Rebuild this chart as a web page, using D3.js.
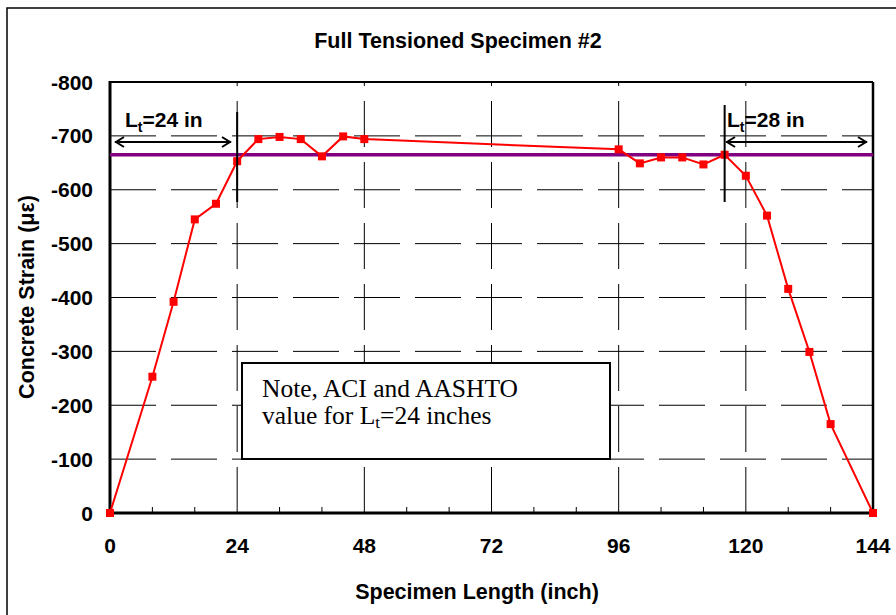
<!DOCTYPE html>
<html>
<head>
<meta charset="utf-8">
<script src="https://cdn.jsdelivr.net/npm/d3@7"></script>
<style>
  html, body { margin: 0; padding: 0; background: #fff; }
  svg { display: block; }
</style>
</head>
<body>
<svg id="chart" width="896" height="615"></svg>
<script>
// ---- data ----
const positions = [0, 8, 12, 16, 20, 24, 28, 32, 36, 40, 44, 48, 96, 100, 104, 108, 112, 116, 120, 124, 128, 132, 136, 144];
const strains   = [0, -253, -392, -545, -574, -653, -694, -698, -694, -662, -699, -694, -675, -649, -660, -660, -647, -665, -626, -552, -416, -299, -165, 0];
const referenceStrain = -665;      // ACI / AASHTO level
const xTicks = [0, 24, 48, 72, 96, 120, 144];
const xMinorTicks = [8, 16, 32, 40, 56, 64, 80, 88, 104, 112, 128, 136];
const yTicks = [0, -100, -200, -300, -400, -500, -600, -700, -800];
const leftLt = 24, rightLtPos = 116, rightLt = 28;
const titleText = "Full Tensioned Specimen #2";
const xTitle = "Specimen Length (inch)";
const yTitle = "Concrete Strain (\u03bc\u03b5)";

const svg = d3.select("#chart");
const x = d3.scaleLinear().domain([0, 144]).range([110, 873]);
const y = d3.scaleLinear().domain([0, -800]).range([513, 82]);
const sans = "'Liberation Sans', Arial, sans-serif";

// outer chart border
svg.append("rect").attr("x", 7).attr("y", 8).attr("width", 900).attr("height", 620)
  .attr("fill", "none").attr("stroke", "#000").attr("stroke-width", 1.5);

// grid lines
const g = svg.append("g");
g.selectAll("line.hg").data(yTicks.filter(d => d !== 0 && d !== -800)).join("line")
  .attr("x1", x(0)).attr("x2", x(144)).attr("y1", d => y(d)).attr("y2", d => y(d))
  .attr("stroke", "#000").attr("stroke-width", 1).attr("stroke-dasharray", "46,15");
g.selectAll("line.vg").data(xTicks.filter(d => d !== 0 && d !== 144)).join("line")
  .attr("x1", d => x(d)).attr("x2", d => x(d)).attr("y1", y(0)).attr("y2", y(-800))
  .attr("stroke", "#000").attr("stroke-width", 1).attr("stroke-dasharray", "46,15");

// minor ticks on x axis
g.selectAll("line.mt").data(xMinorTicks).join("line")
  .attr("x1", d => x(d)).attr("x2", d => x(d)).attr("y1", y(0)).attr("y2", y(0) - 6)
  .attr("stroke", "#000").attr("stroke-width", 1);

// plot frame
svg.append("line").attr("x1", x(0)).attr("x2", x(144)).attr("y1", y(-800)).attr("y2", y(-800))
  .attr("stroke", "#000").attr("stroke-width", 2);
svg.append("line").attr("x1", x(144)).attr("x2", x(144)).attr("y1", y(-800)).attr("y2", y(0))
  .attr("stroke", "#000").attr("stroke-width", 2.5);
svg.append("line").attr("x1", x(0)).attr("x2", x(0)).attr("y1", y(-800) - 1).attr("y2", y(0) + 1.5)
  .attr("stroke", "#000").attr("stroke-width", 3);
svg.append("line").attr("x1", x(0) - 1.5).attr("x2", x(144) + 1).attr("y1", y(0)).attr("y2", y(0))
  .attr("stroke", "#000").attr("stroke-width", 3);

// tick labels
svg.selectAll("text.xt").data(xTicks).join("text")
  .attr("x", d => x(d)).attr("y", 553).attr("text-anchor", "middle")
  .attr("font-family", sans).attr("font-weight", "bold").attr("font-size", 21)
  .text(d => d);
svg.selectAll("text.yt").data(yTicks).join("text")
  .attr("x", 93).attr("y", d => y(d) + 7.5).attr("text-anchor", "end")
  .attr("font-family", sans).attr("font-weight", "bold").attr("font-size", 21)
  .text(d => d);

// titles
svg.append("text").attr("x", 458).attr("y", 48).attr("text-anchor", "middle")
  .attr("font-family", sans).attr("font-weight", "bold").attr("font-size", 21.5).text(titleText);
svg.append("text").attr("x", 477).attr("y", 599).attr("text-anchor", "middle")
  .attr("font-family", sans).attr("font-weight", "bold").attr("font-size", 21.5).text(xTitle);
svg.append("text").attr("transform", "translate(34,297) rotate(-90)").attr("text-anchor", "middle")
  .attr("font-family", sans).attr("font-weight", "bold").attr("font-size", 21.5).text(yTitle);

// reference (purple) line
svg.append("line").attr("x1", x(0)).attr("x2", x(144))
  .attr("y1", y(referenceStrain)).attr("y2", y(referenceStrain))
  .attr("stroke", "#800080").attr("stroke-width", 3.5);

// data line and markers
const line = d3.line().x((d, i) => x(positions[i])).y(d => y(d));
svg.append("path").datum(strains).attr("d", line)
  .attr("fill", "none").attr("stroke", "#ff0000").attr("stroke-width", 2);
svg.selectAll("rect.pt").data(strains).join("rect")
  .attr("x", (d, i) => x(positions[i]) - 4).attr("y", d => y(d) - 4)
  .attr("width", 8).attr("height", 8).attr("fill", "#ff0000");

// transfer length markers
svg.append("line").attr("x1", x(leftLt)).attr("x2", x(leftLt)).attr("y1", 112).attr("y2", 202)
  .attr("stroke", "#000").attr("stroke-width", 2);
svg.append("line").attr("x1", x(rightLtPos)).attr("x2", x(rightLtPos)).attr("y1", 105).attr("y2", 202)
  .attr("stroke", "#000").attr("stroke-width", 2);

function arrow(x1, x2, yy) {
  const a = svg.append("g").attr("stroke", "#000").attr("stroke-width", 2).attr("fill", "none");
  a.append("line").attr("x1", x1).attr("x2", x2).attr("y1", yy).attr("y2", yy);
  a.append("path").attr("d", `M${x1 + 9},${yy - 5} L${x1 + 1},${yy} L${x1 + 9},${yy + 5}`);
  a.append("path").attr("d", `M${x2 - 9},${yy - 5} L${x2 - 1},${yy} L${x2 - 9},${yy + 5}`);
}
arrow(115, 231, 142);
arrow(726, 867, 142);

function ltLabel(xx, yy, val) {
  const t = svg.append("text").attr("x", xx).attr("y", yy)
    .attr("font-family", sans).attr("font-weight", "bold").attr("font-size", 21);
  t.append("tspan").text("L");
  t.append("tspan").attr("font-size", 14).attr("dy", 5).text("t");
  t.append("tspan").attr("dy", -5).text("=" + val + " in");
}
ltLabel(125, 127, leftLt);
ltLabel(727, 127, rightLt);

// note box
svg.append("rect").attr("x", 242).attr("y", 363).attr("width", 368).attr("height", 96)
  .attr("fill", "#fff").attr("stroke", "#000").attr("stroke-width", 2);
const serif = "'Liberation Serif', 'Times New Roman', serif";
svg.append("text").attr("x", 262).attr("y", 397).attr("font-family", serif).attr("font-size", 25.5)
  .text("Note, ACI and AASHTO");
const n2 = svg.append("text").attr("x", 262).attr("y", 424).attr("font-family", serif).attr("font-size", 25.5);
n2.append("tspan").text("value for L");
n2.append("tspan").attr("font-size", 17).attr("dy", 4).text("t");
n2.append("tspan").attr("dy", -4).text("=24 inches");
</script>
</body>
</html>
